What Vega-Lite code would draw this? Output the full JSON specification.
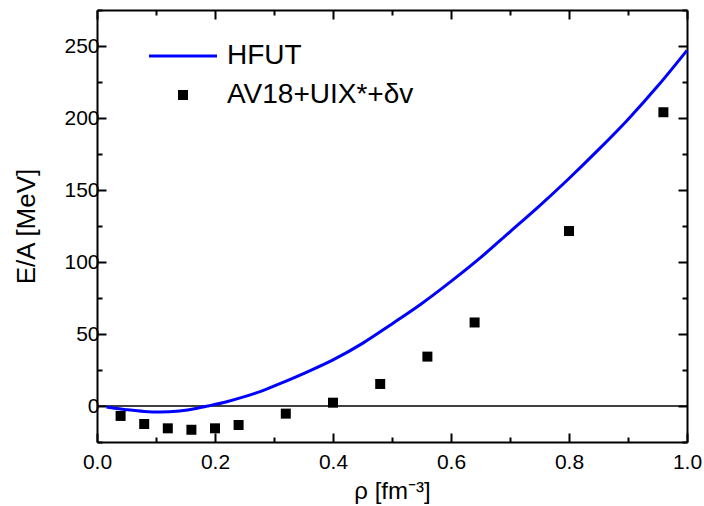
{
  "$schema": "https://vega.github.io/schema/vega-lite/v6.json",
  "width": 590,
  "height": 432,
  "autosize": {"type": "none"},
  "padding": {"left": 97, "top": 10, "right": 17, "bottom": 64},
  "background": "white",
  "config": {
    "view": {"stroke": null},
    "font": "Liberation Sans",
    "axis": {
      "domainColor": "black",
      "domainWidth": 2,
      "tickColor": "black",
      "tickWidth": 2,
      "grid": false,
      "labelFont": "Liberation Sans",
      "labelFontSize": 21,
      "labelColor": "black",
      "titleFont": "Liberation Sans",
      "titleFontSize": 24,
      "titleFontWeight": "normal",
      "titleColor": "black",
      "labelFlush": false,
      "labelOverlap": false
    }
  },
  "datasets": {
    "hfut": [
      {"rho": 0.016, "ea": -0.7, "series": "HFUT"},
      {"rho": 0.03, "ea": -1.6, "series": "HFUT"},
      {"rho": 0.05, "ea": -2.6, "series": "HFUT"},
      {"rho": 0.08, "ea": -3.8, "series": "HFUT"},
      {"rho": 0.107, "ea": -4.2, "series": "HFUT"},
      {"rho": 0.14, "ea": -3.4, "series": "HFUT"},
      {"rho": 0.17, "ea": -1.5, "series": "HFUT"},
      {"rho": 0.19, "ea": 0.2, "series": "HFUT"},
      {"rho": 0.22, "ea": 3, "series": "HFUT"},
      {"rho": 0.25, "ea": 6.5, "series": "HFUT"},
      {"rho": 0.28, "ea": 10.5, "series": "HFUT"},
      {"rho": 0.31, "ea": 15.5, "series": "HFUT"},
      {"rho": 0.35, "ea": 22.5, "series": "HFUT"},
      {"rho": 0.40, "ea": 32, "series": "HFUT"},
      {"rho": 0.45, "ea": 43.5, "series": "HFUT"},
      {"rho": 0.50, "ea": 57, "series": "HFUT"},
      {"rho": 0.55, "ea": 71, "series": "HFUT"},
      {"rho": 0.60, "ea": 86.5, "series": "HFUT"},
      {"rho": 0.65, "ea": 103, "series": "HFUT"},
      {"rho": 0.70, "ea": 121, "series": "HFUT"},
      {"rho": 0.75, "ea": 139, "series": "HFUT"},
      {"rho": 0.80, "ea": 158, "series": "HFUT"},
      {"rho": 0.85, "ea": 178, "series": "HFUT"},
      {"rho": 0.90, "ea": 199, "series": "HFUT"},
      {"rho": 0.95, "ea": 222, "series": "HFUT"},
      {"rho": 1.00, "ea": 247, "series": "HFUT"}
    ],
    "av18": [
      {"rho": 0.04, "ea": -6.9, "series": "AV18+UIX*+δv"},
      {"rho": 0.08, "ea": -12.5, "series": "AV18+UIX*+δv"},
      {"rho": 0.12, "ea": -15.5, "series": "AV18+UIX*+δv"},
      {"rho": 0.16, "ea": -16.5, "series": "AV18+UIX*+δv"},
      {"rho": 0.20, "ea": -15.5, "series": "AV18+UIX*+δv"},
      {"rho": 0.24, "ea": -13.2, "series": "AV18+UIX*+δv"},
      {"rho": 0.32, "ea": -5.3, "series": "AV18+UIX*+δv"},
      {"rho": 0.40, "ea": 2.3, "series": "AV18+UIX*+δv"},
      {"rho": 0.48, "ea": 15.3, "series": "AV18+UIX*+δv"},
      {"rho": 0.56, "ea": 34.3, "series": "AV18+UIX*+δv"},
      {"rho": 0.64, "ea": 58, "series": "AV18+UIX*+δv"},
      {"rho": 0.80, "ea": 121.5, "series": "AV18+UIX*+δv"},
      {"rho": 0.96, "ea": 204, "series": "AV18+UIX*+δv"}
    ],
    "zero": [{"ea": 0}]
  },
  "resolve": {"axis": {"x": "independent", "y": "independent"}},
  "layer": [
    {
      "data": {"name": "zero"},
      "mark": {"type": "rule", "color": "black", "strokeWidth": 1.5},
      "encoding": {
        "y": {"field": "ea", "type": "quantitative", "scale": {"domain": [-25, 275], "nice": false, "zero": false}, "axis": null}
      }
    },
    {
      "data": {"name": "hfut"},
      "mark": {"type": "line", "color": "#0000ff", "strokeWidth": 3, "interpolate": "monotone"},
      "encoding": {
        "x": {
          "field": "rho", "type": "quantitative",
          "scale": {"domain": [0, 1], "nice": false, "zero": false},
          "axis": {
            "orient": "bottom",
            "title": "ρ [fm⁻³]",
            "values": [0, 0.1, 0.2, 0.3, 0.4, 0.5, 0.6, 0.7, 0.8, 0.9, 1.0],
            "labelExpr": "round(datum.value*10) % 2 == 0 ? format(datum.value, '.1f') : ''",
            "tickSize": {"condition": {"test": "round(datum.value*10) % 2 == 0", "value": -9}, "value": -5},
            "labelPadding": 18,
            "titlePadding": 3
          }
        },
        "y": {
          "field": "ea", "type": "quantitative",
          "scale": {"domain": [-25, 275], "nice": false, "zero": false},
          "axis": {
            "orient": "left",
            "title": "E/A [MeV]",
            "titleFontSize": 26,
            "values": [-25, 0, 25, 50, 75, 100, 125, 150, 175, 200, 225, 250, 275],
            "labelExpr": "datum.value % 50 == 0 ? datum.label : ''",
            "tickSize": {"condition": {"test": "datum.value % 50 == 0", "value": -9}, "value": -5},
            "labelPadding": 7,
            "titlePadding": 24
          }
        }
      }
    },
    {
      "data": {"name": "av18"},
      "mark": {"type": "point", "filled": true, "size": 100, "opacity": 1},
      "encoding": {
        "x": {
          "field": "rho", "type": "quantitative",
          "scale": {"domain": [0, 1], "nice": false, "zero": false},
          "axis": {
            "orient": "top",
            "title": null,
            "labels": false,
            "values": [0, 0.1, 0.2, 0.3, 0.4, 0.5, 0.6, 0.7, 0.8, 0.9, 1.0],
            "tickSize": {"condition": {"test": "round(datum.value*10) % 2 == 0", "value": -9}, "value": -5}
          }
        },
        "y": {
          "field": "ea", "type": "quantitative",
          "scale": {"domain": [-25, 275], "nice": false, "zero": false},
          "axis": {
            "orient": "right",
            "title": null,
            "labels": false,
            "values": [-25, 0, 25, 50, 75, 100, 125, 150, 175, 200, 225, 250, 275],
            "tickSize": {"condition": {"test": "datum.value % 50 == 0", "value": -9}, "value": -5}
          }
        },
        "color": {
          "field": "series", "type": "nominal",
          "scale": {"domain": ["HFUT", "AV18+UIX*+δv"], "range": ["#0000ff", "black"]},
          "legend": {
            "title": null,
            "orient": "none",
            "legendX": 72,
            "legendY": 32,
            "padding": 0,
            "symbolSize": 100,
            "symbolOpacity": 1,
            "labelFont": "Liberation Sans",
            "labelFontSize": 28,
            "labelColor": "black",
            "labelLimit": 0,
            "labelOffset": 30,
            "rowPadding": 11
          }
        },
        "shape": {
          "field": "series", "type": "nominal",
          "scale": {"domain": ["HFUT", "AV18+UIX*+δv"], "range": ["M-6.8,-0.3L6.8,-0.3L6.8,0.3L-6.8,0.3Z", "square"]},
          "legend": {
            "title": null,
            "orient": "none",
            "legendX": 72,
            "legendY": 32,
            "padding": 0,
            "symbolSize": 100,
            "symbolOpacity": 1,
            "labelFont": "Liberation Sans",
            "labelFontSize": 28,
            "labelColor": "black",
            "labelLimit": 0,
            "labelOffset": 30,
            "rowPadding": 11
          }
        }
      }
    }
  ]
}
